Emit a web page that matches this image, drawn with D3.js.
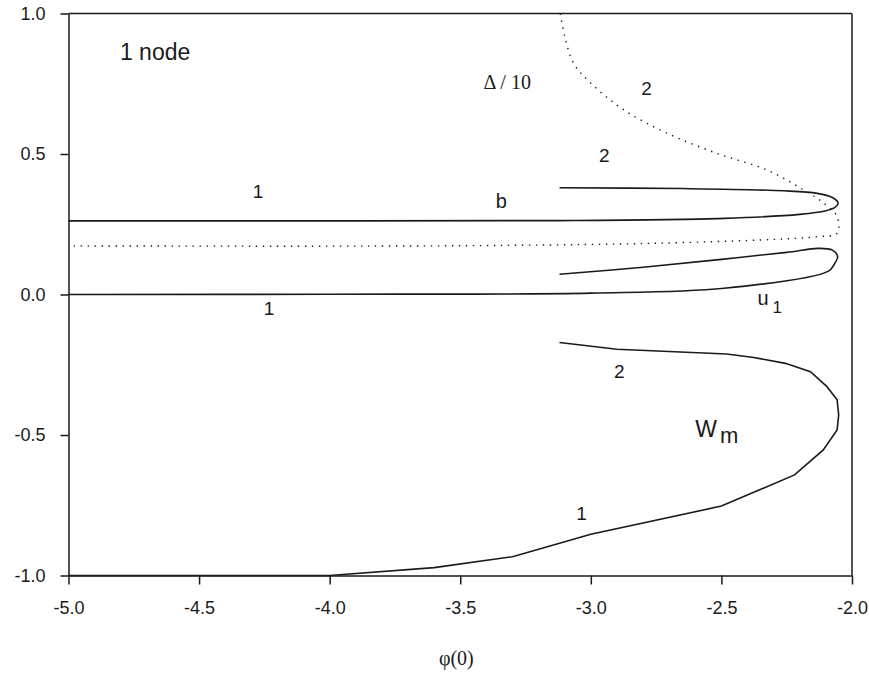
<!DOCTYPE html>
<meta charset="utf-8">
<style>
body { margin: 0; background: #fff; }
text { font-family: "Liberation Sans", Arial, sans-serif; fill: #1a1a1a; }
.axis path, .axis line { stroke: #1a1a1a; stroke-width: 1.5; fill: none; }
.axis text { font-size: 18px; }
.curve { fill: none; stroke: #1a1a1a; stroke-width: 1.6; }
.dotted { fill: none; stroke: #1a1a1a; stroke-width: 1.4; stroke-dasharray: 1.4 5.6; }
.serif { font-family: "Liberation Serif", "DejaVu Serif", serif; }
</style>
<script src="https://d3js.org/d3.v7.min.js"></script>
<body>
<div id="chart"></div>
<script>
// curves, [phi(0), value]
var bCurve = [[-5,0.262],[-4,0.262],[-3.12,0.263],[-2.49,0.271],[-2.2,0.285],[-2.1,0.298],
  [-2.065,0.31],[-2.053,0.325],[-2.075,0.345],[-2.133,0.36],[-2.26,0.369],[-2.65,0.377],[-3.12,0.38]];
var u1Curve = [[-5,0],[-4,0.001],[-3,0.005],[-2.49,0.022],[-2.09,0.083],[-2.07,0.105],[-2.055,0.135],
  [-2.075,0.158],[-2.13,0.164],[-2.25,0.15],[-2.5,0.125],[-2.8,0.097],[-3.12,0.072]];
var wmCurve = [[-5,-1],[-4,-1],[-3.6,-0.972],[-3.3,-0.933],[-3.0,-0.853],[-2.5,-0.753],[-2.22,-0.642],
  [-2.11,-0.553],[-2.057,-0.482],[-2.051,-0.429],[-2.057,-0.375],[-2.096,-0.328],[-2.159,-0.275],
  [-2.255,-0.245],[-2.376,-0.224],[-2.48,-0.212],[-2.9,-0.195],[-3.12,-0.171]];
var deltaCurve = [[-4.98,0.173],[-4,0.172],[-3.3,0.175],[-2.77,0.182],[-2.3,0.196],[-2.13,0.206],
  [-2.057,0.218],[-2.057,0.277],[-2.108,0.325],[-2.185,0.372],[-2.325,0.443],[-2.517,0.502],
  [-2.708,0.574],[-2.874,0.657],[-3.0,0.752],[-3.066,0.823],[-3.1,0.92],[-3.117,1.0]];
var xTicks = [-5.0,-4.5,-4.0,-3.5,-3.0,-2.5,-2.0];
var yTicks = [-1.0,-0.5,0.0,0.5,1.0];
var labels = [
  {x:-4.274, y:0.343, t:"1"},
  {x:-3.343, y:0.308, t:"b", size:20},
  {x:-2.948, y:0.472, t:"2"},
  {x:-2.787, y:0.71, t:"2"},
  {x:-4.232, y:-0.073, t:"1"},
  {x:-2.891, y:-0.297, t:"2"},
  {x:-3.036, y:-0.802, t:"1"}
];

var margin = {top: 13.5, right: 17, bottom: 97.5, left: 68.5},
    width = 869 - margin.left - margin.right,
    height = 673 - margin.top - margin.bottom;

var svg = d3.select("#chart").append("svg")
    .attr("width", 869).attr("height", 673)
  .append("g")
    .attr("transform", "translate(" + margin.left + "," + margin.top + ")");

var x = d3.scaleLinear().domain([-5, -2]).range([0, width]);
var y = d3.scaleLinear().domain([-1, 1]).range([height, 0]);

// frame
svg.append("line").attr("x1", 0).attr("x2", width).attr("y1", 0).attr("y2", 0)
  .attr("stroke", "#1a1a1a").attr("stroke-width", 1.5);
svg.append("line").attr("x1", width).attr("x2", width).attr("y1", 0).attr("y2", height)
  .attr("stroke", "#1a1a1a").attr("stroke-width", 1.5);

svg.append("g").attr("class", "axis")
  .attr("transform", "translate(0," + height + ")")
  .call(d3.axisBottom(x).tickValues(xTicks).tickFormat(d3.format(".1f")).tickSize(9).tickSizeOuter(0).tickPadding(17));
svg.append("g").attr("class", "axis")
  .call(d3.axisLeft(y).tickValues(yTicks).tickFormat(d3.format(".1f")).tickSize(8).tickSizeOuter(0).tickPadding(15));
svg.selectAll(".axis text").text(function() { return this.textContent.replace("−", "-"); });

var line = d3.line().x(function(d) { return x(d[0]); }).y(function(d) { return y(d[1]); });
var smooth = d3.line().curve(d3.curveCatmullRom.alpha(0.5))
  .x(function(d) { return x(d[0]); }).y(function(d) { return y(d[1]); });

svg.append("path").datum(bCurve).attr("class", "curve").attr("d", smooth);
svg.append("path").datum(u1Curve).attr("class", "curve").attr("d", smooth);
svg.append("path").datum(wmCurve).attr("class", "curve").attr("d", line);
svg.append("path").datum(deltaCurve).attr("class", "dotted").attr("d", smooth);

labels.forEach(function(l) {
  svg.append("text").attr("x", x(l.x)).attr("y", y(l.y))
    .style("font-size", (l.size || 19) + "px").attr("text-anchor", "middle").text(l.t);
});

svg.append("text").attr("x", x(-4.803)).attr("y", y(0.835))
  .style("font-size", "23px").text("1 node");

// subscripted labels
var u = svg.append("text").attr("x", x(-2.362)).attr("y", y(-0.037)).style("font-size", "20px");
u.append("tspan").text("u");
u.append("tspan").attr("dx", 4).attr("dy", 8).style("font-size", "17px").text("1");

var w = svg.append("text").attr("x", x(-2.6)).attr("y", y(-0.507)).style("font-size", "23px");
w.append("tspan").text("W");
w.append("tspan").attr("dx", 3).attr("dy", 6).style("font-size", "22px").text("m");

svg.append("text").attr("class", "serif").attr("x", x(-3.32)).attr("y", y(0.731))
  .style("font-size", "20px").attr("text-anchor", "middle").text("\u0394 / 10");

svg.append("text").attr("class", "serif").attr("x", x(-3.515)).attr("y", height + 89)
  .style("font-size", "20px").attr("text-anchor", "middle").text("\u03c6(0)");
</script>
</body>
